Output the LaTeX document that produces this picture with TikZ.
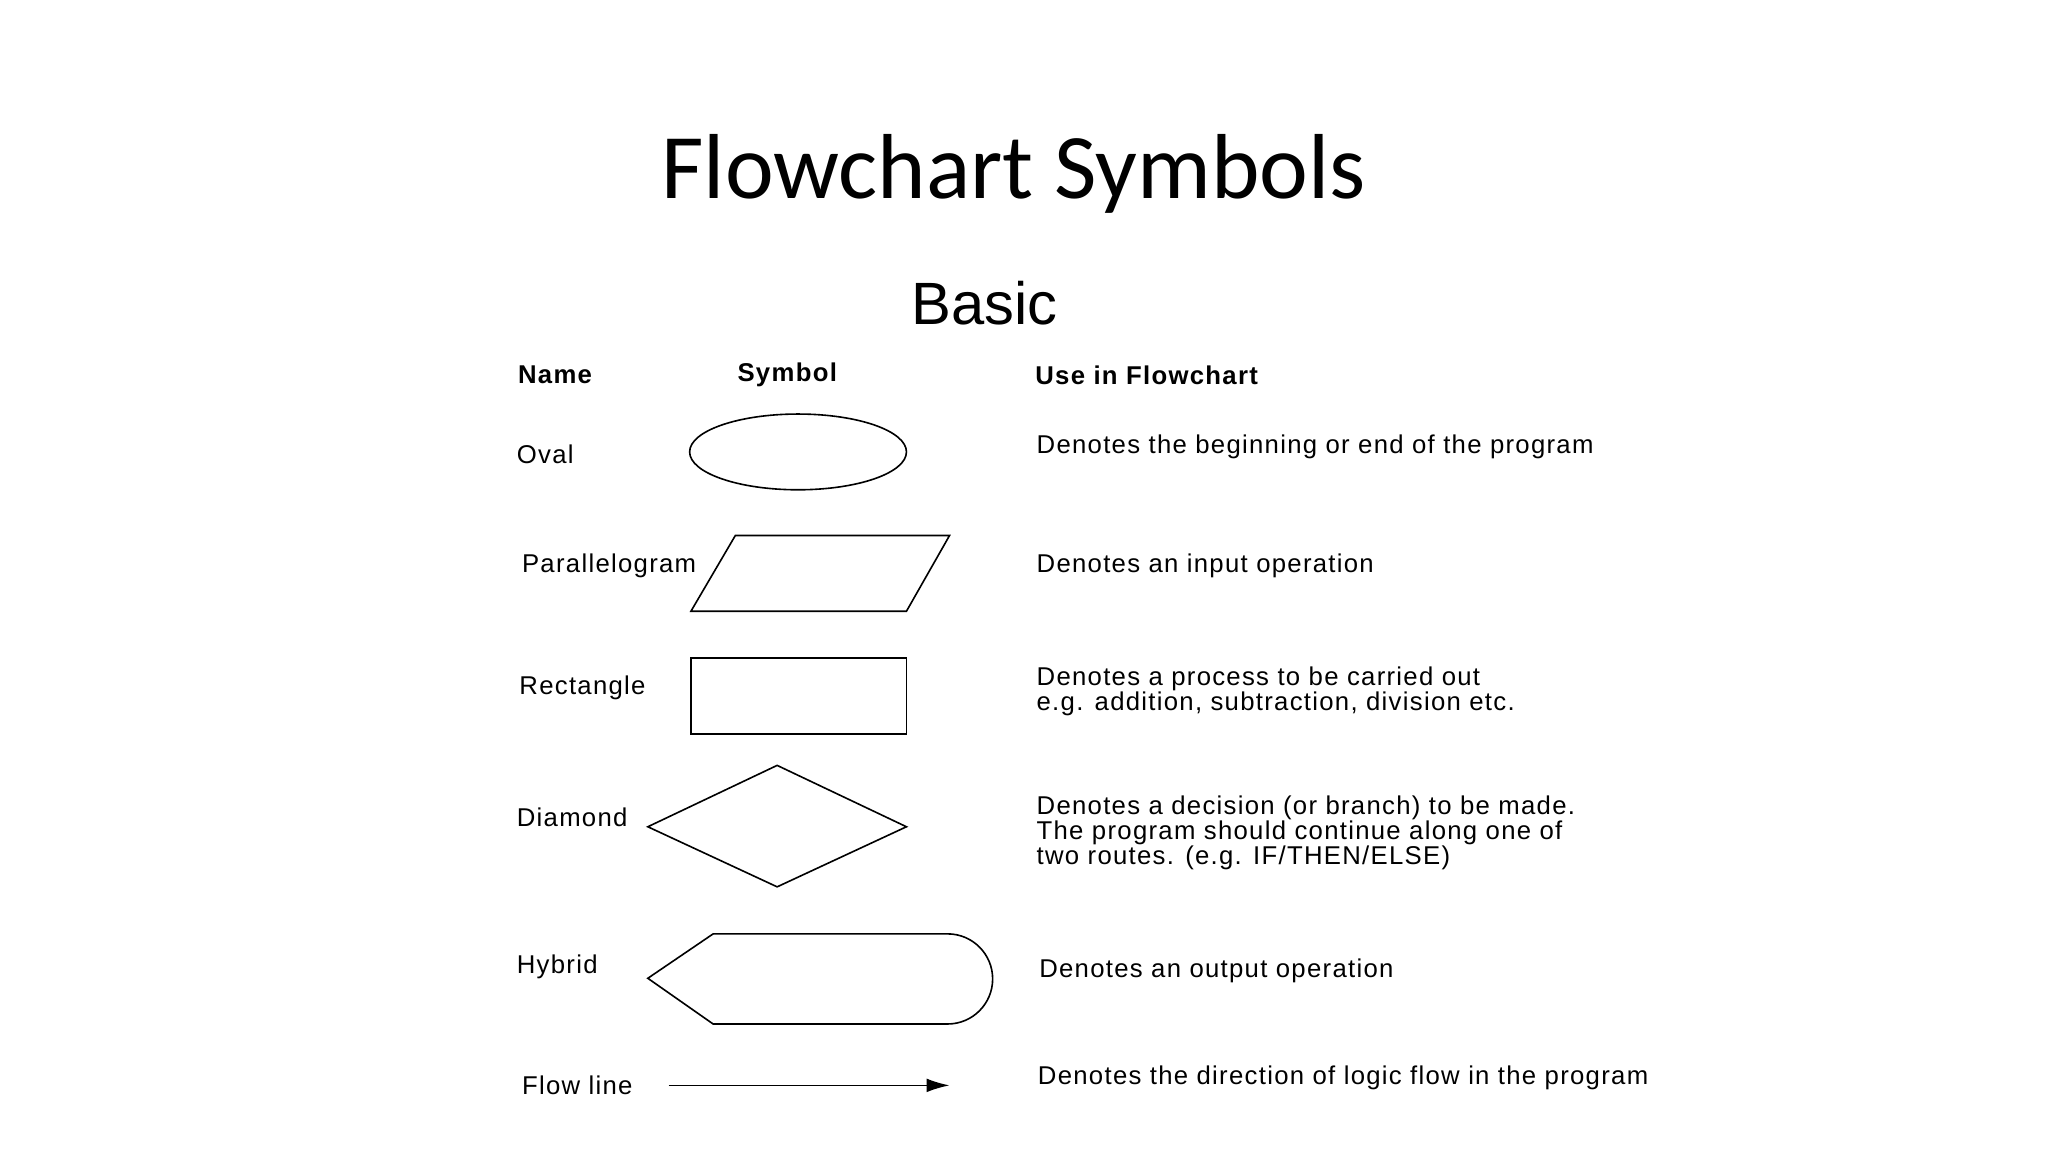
\documentclass[tikz,border=0pt]{standalone}
\usepackage{fontspec}
\setmainfont{Liberation Sans}
\newfontfamily\arialw[LetterSpace=5]{Liberation Sans}
\newfontfamily\titlefont{Carlito}
\usetikzlibrary{arrows.meta}
\begin{document}
\begin{tikzpicture}[x=0.01cm,y=-0.01cm,
  lbl/.style={anchor=west,inner sep=0pt,font=\arialw\fontsize{5.6}{5.45}\selectfont,align=left},
  hdr/.style={anchor=west,inner sep=0pt,font=\arialw\fontsize{5.6}{6}\selectfont\bfseries},
  shp/.style={draw=black,line width=0.35pt}]
\useasboundingbox[fill=white] (0,0) rectangle (1568,882);
\node[inner sep=0pt,font=\titlefont\fontsize{20.1}{24}\selectfont] (title) at (776,133) {Flowchart Symbols};
\node[inner sep=0pt,font=\fontsize{13}{15}\selectfont] (basic) at (754,232) {Basic};
\node[hdr] (hn) at (396,287) {Name};
\node[hdr] (hs) at (564,287) {Symbol};
\node[hdr] (hu) at (792,287) {Use in Flowchart};
\node[lbl] (n1) at (395,348) {Oval};
\node[lbl] (n2) at (399,433) {Parallelogram};
\node[lbl] (n3) at (397,527) {Rectangle};
\node[lbl] (n4) at (395,626) {Diamond};
\node[lbl] (n5) at (395,740) {Hybrid};
\node[lbl] (n6) at (399,831) {Flow line};
\node[lbl] (d1) at (793,342) {Denotes the beginning or end of the program};
\node[lbl] (d2) at (793,433) {Denotes an input operation};
\node[lbl] (d3) at (793,529.5) {Denotes a process to be carried out\\e.g. addition, subtraction, division etc.};
\node[lbl] (d4) at (793,638) {Denotes a decision (or branch) to be made.\\The program should continue along one of\\two routes. (e.g. IF/THEN/ELSE)};
\node[lbl] (d5) at (795,743) {Denotes an output operation};
\node[lbl] (d6) at (794,825) {Denotes the direction of logic flow in the program};
\draw[shp] (611,346) ellipse [x radius=83, y radius=29];
\draw[shp] (529,468) -- (563,410) -- (727,410) -- (694,468) -- cycle;
\draw[shp] (529,504) rectangle (694,562);
\draw[shp] (496,633) -- (595,586) -- (694,633) -- (595,679) -- cycle;
\draw[shp] (496,749) -- (546,715) -- (725.5,715) arc[start angle=-90,end angle=90,radius=34.5] -- (546,784) -- cycle;
\coordinate (a1) at (512,831);
\coordinate (a2) at (727,831);
\draw[shp,-{Latex[length=5pt,width=3pt]}] (a1) -- (a2);
\end{tikzpicture}
\end{document}
